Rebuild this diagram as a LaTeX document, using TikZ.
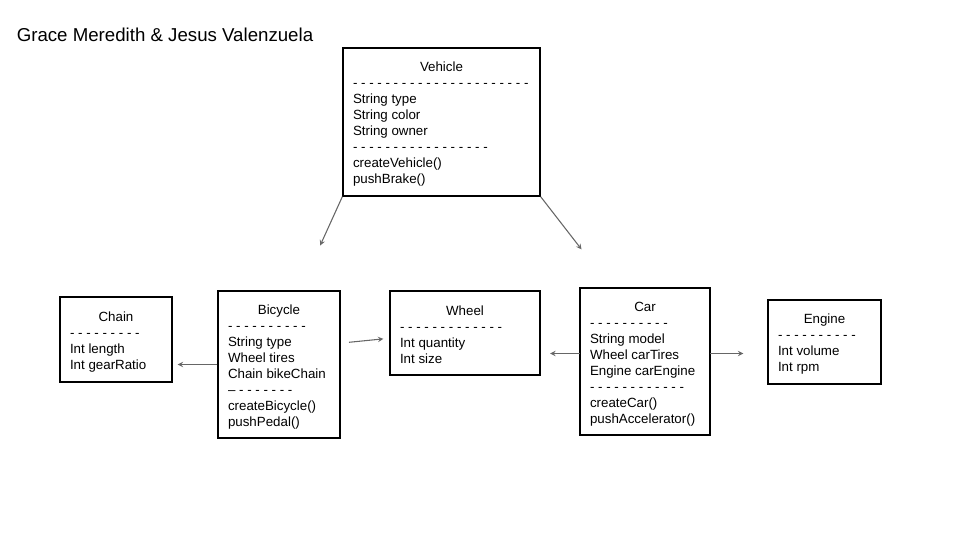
\documentclass[tikz,border=0pt]{standalone}
\usepackage{fontspec}
\setmainfont{Liberation Sans}
\usepackage{tikz}

\definecolor{linkgray}{RGB}{102,102,102}
\newcommand{\classtitle}[1]{\makebox[\linewidth]{\rule{0pt}{10.5pt}#1}}

\begin{document}
\begin{tikzpicture} [>=stealth, x=0.75pt, y=-0.75pt,
    classbox/.style={draw, line width=1pt, align=flush left, inner xsep=7.5pt, inner ysep=0pt,
                     font=\fontsize{10}{12}\selectfont},
    link/.style={->, draw=linkgray, line width=0.8pt, shorten >=-1pt}]
		\useasboundingbox (0,0) rectangle (960,540);

		\node[anchor=base west, inner sep=0pt, font=\fontsize{14}{16}\selectfont] (title) at (16.5,41) {Grace Meredith \& Jesus Valenzuela};

		% classes
		\node[classbox, minimum width=147.75pt, minimum height=111pt, text width=132.75pt] (vehicle) at (441.5,122)
		  {\classtitle{Vehicle}\\ - - - - - - - - - - - - - - - - - - - - - -\\ String type\\ String color\\ String owner\\ - - - - - - - - - - - - - - - - -\\ createVehicle()\\ pushBrake()};

		\node[classbox, minimum width=84pt, minimum height=63.75pt, text width=69pt] (chain) at (116,339.5)
		  {\classtitle{Chain}\\ - - - - - - - - -\\ Int length\\ Int gearRatio};

		\node[classbox, minimum width=91.5pt, minimum height=110.25pt, text width=76.5pt] (bicycle) at (279,364.5)
		  {\classtitle{Bicycle}\\ - - - - - - - - - -\\ String type\\ Wheel tires\\ Chain bikeChain\\ \textendash{} - - - - - - -\\ createBicycle()\\ pushPedal()};

		\node[classbox, minimum width=112.5pt, minimum height=63pt, text width=97.5pt] (wheel) at (465,333)
		  {\classtitle{Wheel}\\ - - - - - - - - - - - - -\\ Int quantity\\ Int size};

		\node[classbox, minimum width=97.5pt, minimum height=110.25pt, text width=82.5pt] (car) at (645,361.5)
		  {\classtitle{Car}\\ - - - - - - - - - -\\ String model\\ Wheel carTires\\ Engine carEngine\\ - - - - - - - - - - - -\\ createCar()\\ pushAccelerator()};

		\node[classbox, minimum width=84.75pt, minimum height=63pt, text width=69.75pt] (engine) at (824.5,342)
		  {\classtitle{Engine}\\ - - - - - - - - - -\\ Int volume\\ Int rpm};

		% loose arrow ends
		\coordinate (vehicleL) at (320.7,244.3);
		\coordinate (vehicleR) at (580.7,248.3);
		\coordinate (chainEnd) at (179,364.5);
		\coordinate (wheelStart) at (349,342.3);
		\coordinate (wheelEnd) at (382,339);
		\coordinate (carW) at (580,353.5);
		\coordinate (carWEnd) at (551.5,353.5);
		\coordinate (carE) at (710,353.5);
		\coordinate (engineEnd) at (742,353.5);

		\draw [link] (vehicle.south west) -- (vehicleL);
		\draw [link] (vehicle.south east) -- (vehicleR);
		\draw [link] (bicycle.west) -- (chainEnd);
		\draw [link] (wheelStart) -- (wheelEnd);
		\draw [link] (carW) -- (carWEnd);
		\draw [link] (carE) -- (engineEnd);

\end{tikzpicture}
\end{document}
